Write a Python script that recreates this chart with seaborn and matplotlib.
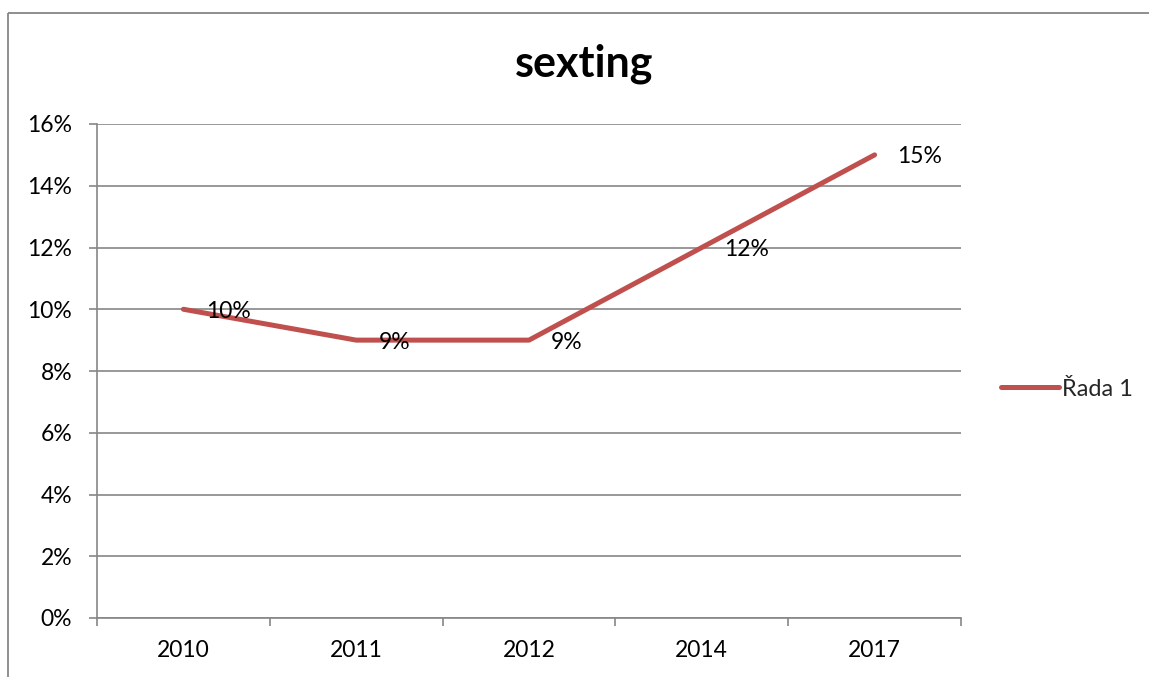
import matplotlib
matplotlib.use("Agg")
import matplotlib.pyplot as plt
import seaborn as sns
import pandas as pd
from matplotlib.lines import Line2D
from matplotlib.ticker import FuncFormatter, FixedLocator

years = ["2010", "2011", "2012", "2014", "2017"]
values = [0.10, 0.09, 0.09, 0.12, 0.15]
labels = ["10%", "9%", "9%", "12%", "15%"]
series_name = "Řada 1"
title = "sexting"

sns.set_theme(style="white")
plt.rcParams["font.family"] = ["Lato", "DejaVu Sans"]

LINE = "#C0504D"
GRID = "#868686"
DPI = 100
W, H = 1149, 677
FS = 16.5

fig = plt.figure(figsize=(W / DPI, H / DPI), dpi=DPI)
fig.patch.set_facecolor("white")

# outer chart frame: left and top edges (the rest runs past the canvas)
fx, fy = 7.5 / W, 1 - 12.5 / H
fig.add_artist(Line2D([fx, fx], [-0.05, fy], transform=fig.transFigure,
                      color=GRID, linewidth=1.3, solid_capstyle="butt"))
fig.add_artist(Line2D([fx, 1.05], [fy, fy], transform=fig.transFigure,
                      color=GRID, linewidth=1.3, solid_capstyle="butt"))

ax = fig.add_axes([97 / W, 1 - 618 / H, (961 - 97) / W, (618 - 124) / H])

df = pd.DataFrame({"pos": range(len(years)), "value": values})
sns.lineplot(data=df, x="pos", y="value", ax=ax, color=LINE, linewidth=3.6,
             solid_capstyle="round", solid_joinstyle="round", legend=False)

ax.set_xlim(-0.5, len(years) - 0.5)
ax.set_ylim(0, 0.16)
ax.set_yticks([i * 0.02 for i in range(9)])
ax.yaxis.set_major_formatter(FuncFormatter(lambda v, _: f"{round(v * 100)}%"))
ax.yaxis.grid(True, color=GRID, linewidth=1.2)
ax.set_axisbelow(True)

# category boundaries carry tick marks, labels sit in the middle
ax.xaxis.set_major_locator(FixedLocator([i - 0.5 for i in range(len(years) + 1)]))
ax.xaxis.set_minor_locator(FixedLocator(list(range(len(years)))))
ax.set_xticklabels([], minor=False)
ax.set_xticklabels(years, minor=True)
ax.tick_params(axis="x", which="major", direction="out", length=6, width=1.2,
               color=GRID, bottom=True)
ax.tick_params(axis="x", which="minor", length=0, pad=16, labelsize=FS, labelcolor="black")
ax.tick_params(axis="y", direction="out", length=6, width=1.2, color=GRID,
               left=True, pad=12, labelsize=FS, labelcolor="black")
ax.set_xlabel("")
ax.set_ylabel("")

for side in ["top", "right"]:
    ax.spines[side].set_visible(False)
for side in ["left", "bottom"]:
    ax.spines[side].set_color(GRID)
    ax.spines[side].set_linewidth(1.2)

for i, (v, t) in enumerate(zip(values, labels)):
    ax.annotate(t, (i, v), xytext=(16, -1.5), textcoords="offset points",
                ha="left", va="center", fontsize=FS, color="black")

fig.text(584 / W, 1 - 64 / H, title, ha="center", va="center",
         fontsize=31, fontweight="bold", color="black")

handle = Line2D([], [], color=LINE, linewidth=3.6, solid_capstyle="round")
fig.legend([handle], [series_name], loc="center left",
           bbox_to_anchor=(1001 / W, 1 - 389 / H), frameon=False,
           borderpad=0, borderaxespad=0, handlelength=2.45, handletextpad=0.12,
           fontsize=17)

fig.savefig("out.png", dpi=DPI)
